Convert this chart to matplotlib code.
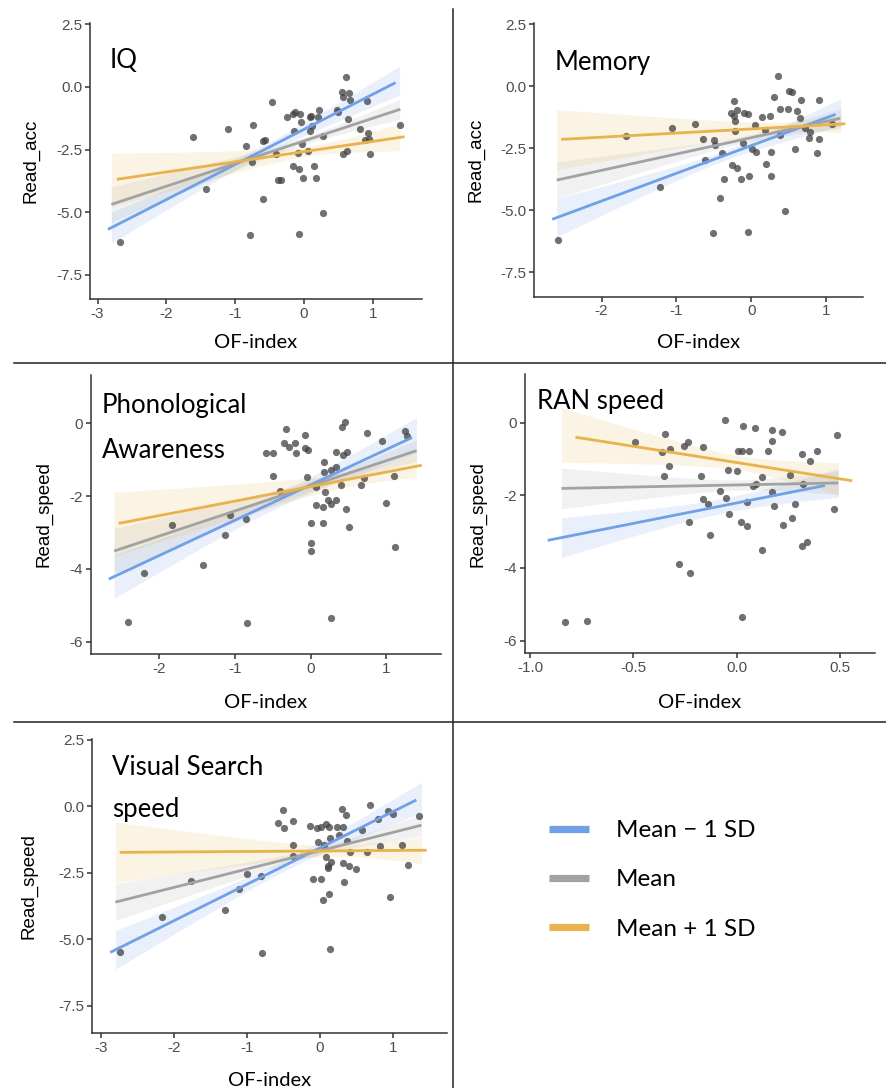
import numpy as np
import matplotlib
matplotlib.use("Agg")
import matplotlib.pyplot as plt
from matplotlib.lines import Line2D

plt.rcParams['axes.unicode_minus'] = False

W, H = 886, 1088

# ---------------- data ----------------
# IQ panel
iq_x = [-2.68, -1.61, -1.43, -1.11, -0.84, -0.79, -0.76, -0.74, -0.59, -0.60, -0.56, -0.46,
        -0.41, -0.38, -0.33, -0.25, -0.16, -0.13, -0.16, -0.14, -0.09, -0.07, -0.07, -0.06,
        -0.04, -0.03, -0.02, 0.06, 0.08, 0.09, 0.10, 0.11, 0.14, 0.17, 0.21, 0.22, 0.27, 0.28,
        0.48, 0.49, 0.55, 0.57, 0.57, 0.61, 0.62, 0.64, 0.66, 0.67, 0.81, 0.88, 0.91, 0.93,
        0.95, 0.96, 1.39]
iq_y = [-6.21, -2.00, -4.07, -1.68, -2.36, -5.93, -3.01, -1.53, -4.49, -2.16, -2.12, -0.59,
        -2.68, -3.73, -3.73, -1.21, -1.09, -0.99, -3.16, -1.77, -2.64, -5.88, -3.29, -1.09,
        -1.41, -2.29, -3.63, -2.56, -1.76, -1.19, -1.15, -1.56, -3.16, -3.63, -1.19, -0.92,
        -5.05, -1.96, -0.92, -1.01, -0.20, -0.41, -2.67, 0.40, -2.56, -1.28, -0.24, -0.53,
        -1.68, -2.13, -0.57, -1.84, -2.09, -2.69, -1.53]

# Memory panel
mem_x = [-2.58, -1.67, -1.22, -1.06, -0.75, -0.65, -0.62, -0.51, -0.50, -0.48, -0.41, -0.39,
         -0.36, -0.27, -0.26, -0.23, -0.23, -0.22, -0.21, -0.19, -0.19, -0.13, -0.11, -0.10,
         -0.04, -0.04, -0.03, 0.01, 0.05, 0.06, 0.14, 0.19, 0.20, 0.25, 0.26, 0.26, 0.31, 0.36,
         0.38, 0.38, 0.45, 0.49, 0.50, 0.54, 0.58, 0.61, 0.66, 0.67, 0.72, 0.78, 0.79, 0.88,
         0.91, 0.91, 1.08]
mem_y = [-6.20, -1.99, -4.06, -1.67, -1.53, -2.11, -2.98, -5.91, -2.16, -2.37, -4.50, -2.69,
         -3.72, -1.09, -3.16, -0.59, -1.18, -1.79, -1.38, -0.97, -3.28, -3.72, -2.27, -1.09,
         -1.13, -5.86, -3.62, -2.54, -1.56, -2.65, -1.22, -1.76, -3.15, -1.20, -2.66, -3.63,
         -0.42, 0.40, -0.93, -1.96, -5.03, -0.93, -0.19, -0.24, -2.54, -0.99, -1.28, -0.55,
         -1.69, -2.10, -1.83, -2.69, -2.14, -0.56, -1.52]

# Phonological Awareness panel
pa_x = [-2.42, -2.21, -1.83, -1.42, -1.13, -1.07, -0.86, -0.84, -0.59, -0.50, -0.50, -0.41,
        -0.35, -0.32, -0.29, -0.21, -0.19, -0.07, -0.07, -0.05, -0.03, 0.00, 0.00, 0.00,
        0.07, 0.07, 0.16, 0.16, 0.17, 0.18, 0.19, 0.23, 0.27, 0.27, 0.27, 0.33, 0.34, 0.34,
        0.40, 0.42, 0.43, 0.46, 0.47, 0.48, 0.51, 0.67, 0.71, 0.75, 0.95, 1.00, 1.10, 1.12,
        1.25, 1.28]
pa_y = [-5.45, -4.12, -2.79, -3.88, -3.08, -2.52, -2.62, -5.49, -0.81, -0.81, -1.46, -1.86,
        -0.54, -0.15, -0.64, -0.54, -0.81, -0.33, -0.67, -1.47, -0.74, -2.74, -3.28, -3.50,
        -1.76, -2.25, -2.30, -2.74, -1.34, -1.07, -1.90, -2.11, -1.28, -5.34, -2.23, -2.10,
        -1.20, -0.80, -1.70, -0.11, -0.86, 0.05, -2.36, -0.78, -2.85, -1.70, -1.50, -0.27,
        -0.49, -2.18, -1.44, -3.39, -0.21, -0.35]

# RAN speed panel
ran_x = [-0.832, -0.727, -0.493, -0.362, -0.349, -0.354, -0.323, -0.326, -0.278, -0.254,
         -0.238, -0.230, -0.225, -0.165, -0.171, -0.163, -0.137, -0.128, -0.079, -0.057,
         -0.052, -0.042, -0.039, 0.002, 0.006, 0.024, 0.023, 0.027, 0.032, 0.048, 0.052,
         0.061, 0.081, 0.089, 0.094, 0.121, 0.123, 0.150, 0.170, 0.173, 0.171, 0.179, 0.218,
         0.225, 0.259, 0.268, 0.283, 0.315, 0.315, 0.323, 0.339, 0.356, 0.390, 0.472, 0.488]
ran_y = [-5.50, -5.46, -0.54, -0.82, -0.32, -1.46, -0.73, -1.19, -3.89, -0.64, -0.54, -2.74,
         -4.13, -0.66, -1.46, -2.11, -2.25, -3.08, -1.88, 0.06, -2.08, -1.29, -2.52, -1.34,
         -0.78, -0.78, -2.74, -5.35, -0.10, -2.18, -2.84, -0.79, -1.74, -0.14, -1.69, -1.50,
         -3.50, -0.79, -0.20, -0.50, -1.90, -2.29, -0.27, -2.81, -1.44, -2.62, -2.23, -0.86,
         -3.39, -1.69, -3.28, -1.06, -0.77, -2.37, -0.35]

# Visual Search speed panel
vs_x = [-2.73, -2.16, -1.77, -1.30, -1.11, -1.00, -0.80, -0.79, -0.58, -0.51, -0.49, -0.37,
        -0.37, -0.37, -0.14, -0.09, -0.04, -0.03, 0.01, 0.02, 0.04, 0.05, 0.08, 0.08, 0.11,
        0.11, 0.12, 0.13, 0.14, 0.14, 0.15, 0.24, 0.26, 0.30, 0.31, 0.31, 0.33, 0.36, 0.37,
        0.40, 0.41, 0.50, 0.58, 0.64, 0.69, 0.79, 0.82, 0.93, 0.96, 1.00, 1.12, 1.21, 1.35]
vs_y = [-5.49, -4.15, -2.79, -3.91, -3.11, -2.53, -2.61, -5.51, -0.64, -0.14, -0.80, -0.54,
        -1.47, -1.85, -0.74, -2.74, -0.80, -1.33, -2.74, -0.79, -3.52, -1.45, -0.66, -1.89,
        -2.23, -2.33, -3.30, -0.79, -5.36, -1.20, -2.11, -0.79, -1.08, -0.11, -2.12, -0.79,
        -2.86, -0.33, -1.29, -2.23, -1.70, -2.37, -0.89, -1.70, 0.05, -0.49, -1.49, -0.18,
        -3.41, -0.28, -1.45, -2.19, -0.35]

# simple slopes: order = Mean - 1 SD, Mean, Mean + 1 SD
iq_line_x0 = [-2.85, -2.80, -2.72]
iq_line_x1 = [1.33, 1.40, 1.46]
iq_line_y0 = [-5.69, -4.69, -3.69]
iq_line_y1 = [0.17, -0.89, -1.99]
iq_band_x = [-2.80, 1.39]
iq_band_hl = [0.62, 0.70, 1.07]
iq_band_hr = [0.58, 0.40, 0.53]

mem_line_x0 = [-2.66, -2.60, -2.54]
mem_line_x1 = [1.13, 1.19, 1.26]
mem_line_y0 = [-5.36, -3.78, -2.14]
mem_line_y1 = [-1.13, -1.29, -1.51]
mem_band_x = [-2.60, 1.20]
mem_band_hl = [0.77, 0.74, 1.21]
mem_band_hr = [0.55, 0.40, 0.34]

pa_line_x0 = [-2.67, -2.60, -2.54]
pa_line_x1 = [1.34, 1.40, 1.47]
pa_line_y0 = [-4.28, -3.51, -2.75]
pa_line_y1 = [-0.39, -0.75, -1.15]
pa_band_x = [-2.60, 1.40]
pa_band_hl = [0.60, 0.62, 0.88]
pa_band_hr = [0.50, 0.30, 0.31]

ran_line_x0 = [-0.916, -0.849, -0.781]
ran_line_x1 = [0.428, 0.493, 0.561]
ran_line_y0 = [-3.24, -1.81, -0.40]
ran_line_y1 = [-1.73, -1.66, -1.60]
ran_band_x = [-0.849, 0.493]
ran_band_hl = [0.55, 0.56, 0.75]
ran_band_hr = [0.40, 0.32, 0.44]

vs_line_x0 = [-2.87, -2.80, -2.74]
vs_line_x1 = [1.32, 1.39, 1.46]
vs_line_y0 = [-5.49, -3.60, -1.73]
vs_line_y1 = [0.24, -0.71, -1.65]
vs_band_x = [-2.80, 1.39]
vs_band_hl = [0.73, 0.69, 1.14]
vs_band_hr = [0.57, 0.40, 0.50]

band_h0 = [0.20, 0.14, 0.20]

titles = [["IQ"], ["Memory"], ["Phonological", "Awareness"], ["RAN speed"],
          ["Visual Search", "speed"]]
ylabels = ["Read_acc", "Read_acc", "Read_speed", "Read_speed", "Read_speed"]
xlabel = "OF-index"

acc_ticks = [2.5, 0.0, -2.5, -5.0, -7.5]
acc_labels = ["2.5", "0.0", "-2.5", "-5.0", "-7.5"]
speed_ticks = [0, -2, -4, -6]
speed_labels = ["0", "-2", "-4", "-6"]
ran_xticks = [-1.0, -0.5, 0.0, 0.5]
ran_xlabels = ["-1.0", "-0.5", "0.0", "0.5"]

legend_labels = ["Mean \u2212 1 SD", "Mean", "Mean + 1 SD"]
colors = ["#70A0E8", "#A2A2A2", "#E8B24C"]

# ---------------- layout (pixels) ----------------
def fx(px):
    return px / W

def fy(py):
    return 1 - py / H

fig = plt.figure(figsize=(W / 100, H / 100), dpi=100)

panels = [
    dict(box=(90, 421.7, 23.3, 299.3), xlim=(-3.11, 1.71), ylim=(-8.48, 2.54),
         xt=[-3, -2, -1, 0, 1], xtl=None, yt=acc_ticks, ytl=acc_labels,
         px=iq_x, py=iq_y, lx0=iq_line_x0, lx1=iq_line_x1, ly0=iq_line_y0, ly1=iq_line_y1,
         bx=iq_band_x, bhl=iq_band_hl, bhr=iq_band_hr,
         title_xy=(110, 68), gap=0, ylab_x=31, xlab_y=348),
    dict(box=(534.3, 863.3, 23.3, 296.7), xlim=(-2.90, 1.50), ylim=(-8.48, 2.54),
         xt=[-2, -1, 0, 1], xtl=None, yt=acc_ticks, ytl=acc_labels,
         px=mem_x, py=mem_y, lx0=mem_line_x0, lx1=mem_line_x1, ly0=mem_line_y0, ly1=mem_line_y1,
         bx=mem_band_x, bhl=mem_band_hl, bhr=mem_band_hr,
         title_xy=(555, 70), gap=0, ylab_x=476, xlab_y=348),
    dict(box=(90.7, 440.7, 375, 654), xlim=(-2.91, 1.72), ylim=(-6.34, 1.33),
         xt=[-2, -1, 0, 1], xtl=None, yt=speed_ticks, ytl=speed_labels,
         px=pa_x, py=pa_y, lx0=pa_line_x0, lx1=pa_line_x1, ly0=pa_line_y0, ly1=pa_line_y1,
         bx=pa_band_x, bhl=pa_band_hl, bhr=pa_band_hr,
         title_xy=(101.7, 413.3), gap=45, ylab_x=44, xlab_y=708),
    dict(box=(525, 875, 374, 653.3), xlim=(-1.026, 0.671), ylim=(-6.35, 1.34),
         xt=ran_xticks, xtl=ran_xlabels, yt=speed_ticks, ytl=speed_labels,
         px=ran_x, py=ran_y, lx0=ran_line_x0, lx1=ran_line_x1, ly0=ran_line_y0, ly1=ran_line_y1,
         bx=ran_band_x, bhl=ran_band_hl, bhr=ran_band_hr,
         title_xy=(537.3, 409), gap=0, ylab_x=478, xlab_y=708),
    dict(box=(92, 446.7, 739, 1033.3), xlim=(-3.12, 1.735), ylim=(-8.53, 2.53),
         xt=[-3, -2, -1, 0, 1], xtl=None, yt=acc_ticks, ytl=acc_labels,
         px=vs_x, py=vs_y, lx0=vs_line_x0, lx1=vs_line_x1, ly0=vs_line_y0, ly1=vs_line_y1,
         bx=vs_band_x, bhl=vs_band_hl, bhr=vs_band_hr,
         title_xy=(111.7, 775), gap=42, ylab_x=29, xlab_y=1086),
]


def half_width(x, xl, xr, hl, hr, h0):
    # hyperbolic confidence band, narrowest (h0) somewhere inside the range
    a = np.sqrt(hl ** 2 - h0 ** 2)
    b = np.sqrt(hr ** 2 - h0 ** 2)
    xc = (a * xr + b * xl) / (a + b)
    k = a / (xc - xl)
    return np.sqrt(h0 ** 2 + (k * (x - xc)) ** 2)


axis_col = "#333333"
title_font = ["Lato", "DejaVu Sans"]
arial = ["Liberation Sans", "DejaVu Sans"]

for i, p in enumerate(panels):
    l, r, t, b = p["box"]
    ax = fig.add_axes([fx(l), fy(b), (r - l) / W, (b - t) / H])
    ax.set_xlim(*p["xlim"])
    ax.set_ylim(*p["ylim"])

    for j in range(3):
        slope = (p["ly1"][j] - p["ly0"][j]) / (p["lx1"][j] - p["lx0"][j])
        bxs = np.linspace(p["bx"][0], p["bx"][1], 80)
        centre = p["ly0"][j] + slope * (bxs - p["lx0"][j])
        hw = half_width(bxs, p["bx"][0], p["bx"][1], p["bhl"][j], p["bhr"][j], band_h0[j])
        ax.fill_between(bxs, centre - hw, centre + hw, color=colors[j], alpha=0.15,
                        linewidth=0, zorder=1)

    ax.scatter(p["px"], p["py"], s=27, color="#404040", alpha=0.75, linewidths=0, zorder=2)

    for j in range(3):
        ax.plot([p["lx0"][j], p["lx1"][j]], [p["ly0"][j], p["ly1"][j]], color=colors[j],
                lw=2.0, solid_capstyle="butt", zorder=3)

    ax.spines[["top", "right"]].set_visible(False)
    for s in ["left", "bottom"]:
        ax.spines[s].set_color(axis_col)
        ax.spines[s].set_linewidth(1.1)
    ax.set_xticks(p["xt"])
    if p["xtl"] is not None:
        ax.set_xticklabels(p["xtl"])
    ax.set_yticks(p["yt"])
    ax.set_yticklabels(p["ytl"])
    ax.tick_params(length=3.5, width=1.1, color=axis_col, labelcolor="#4D4D4D",
                   labelsize=11, pad=2)
    for lab in ax.get_xticklabels() + ax.get_yticklabels():
        lab.set_family(arial)

    tx, ty = p["title_xy"]
    for k, line in enumerate(titles[i]):
        fig.text(fx(tx), fy(ty + k * p["gap"]), line, fontsize=18.5, family=title_font,
                 ha="left", va="baseline")
    fig.text(fx((l + r) / 2), fy(p["xlab_y"]), xlabel, fontsize=14.5, family=title_font,
             ha="center", va="baseline")
    fig.text(fx(p["ylab_x"]), fy((t + b) / 2), ylabels[i], fontsize=13.5, family=arial,
             rotation=90, ha="center", va="center")

# panel dividers
div_col = "#222222"
fig.add_artist(Line2D([fx(453.3), fx(453.3)], [fy(9), fy(H)], color=div_col, lw=1.1))
fig.add_artist(Line2D([fx(14), fx(W)], [fy(363.3), fy(363.3)], color=div_col, lw=1.1))
fig.add_artist(Line2D([fx(14), fx(W)], [fy(721.7), fy(721.7)], color=div_col, lw=1.1))

# legend
leg_y = [828.7, 878, 927.3]
for j in range(3):
    fig.add_artist(Line2D([fx(549), fx(589)], [fy(leg_y[j]), fy(leg_y[j])],
                          color=colors[j], lw=5.2, solid_capstyle="butt"))
    fig.text(fx(615.7), fy(leg_y[j]), legend_labels[j], fontsize=17.5, family=title_font,
             ha="left", va="center_baseline")

fig.savefig("out.png", dpi=100)
